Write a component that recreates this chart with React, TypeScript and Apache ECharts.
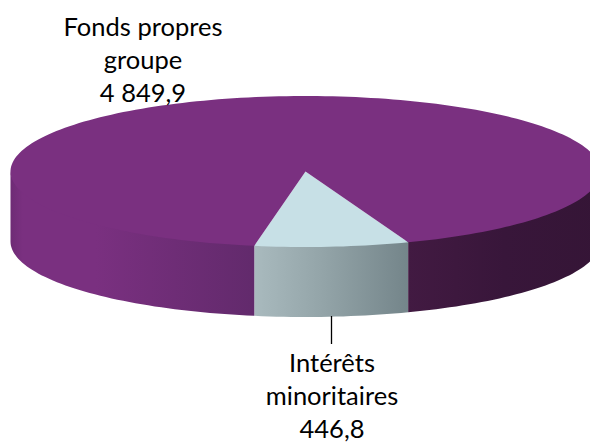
import React, { useEffect, useRef } from "react";
import * as echarts from "echarts";

const names = ["Intérêts\nminoritaires", "Fonds propres\ngroupe"];
const values = [446.8, 4849.9];
const valueLabels = ["446,8", "4 849,9"];

const CX = 305.5, CY = 171.5, RX = 295, RY = 75.5, DEPTH = 70;
const START = -10; // degrees from the front of the pie
const FONT = "Lato, Carlito, sans-serif";

const rad = (d: number) => (d * Math.PI) / 180;
const pt = (a: number, dy = 0): number[] => [CX + RX * Math.sin(rad(a)), CY + RY * Math.cos(rad(a)) + dy];
const arc = (a: number, b: number, dy = 0): number[][] => {
  const n = Math.max(2, Math.ceil(Math.abs(b - a) / 1.5));
  const out: number[][] = [];
  for (let i = 0; i <= n; i++) out.push(pt(a + ((b - a) * i) / n, dy));
  return out;
};
// the upper edge is tucked under the top face so that no pale seam shows
const wall = (a: number, b: number) => [...arc(a, b, -2), ...arc(b, a, DEPTH)];
const hGrad = (stops: [number, string][]) => new echarts.graphic.LinearGradient(0, 0, 1, 0, stops.map(([offset, color]) => ({ offset, color })));

const renderItem = (params: any, api: any) => {
  const i = params.dataIndex;
  const total = values.reduce((s, v) => s + v, 0);
  const sweep = (api.value(0) / total) * 360;
  const before = values.slice(0, i).reduce((s, v) => s + v, 0);
  const a0 = START + (before / total) * 360;
  const a1 = a0 + sweep;
  const children: any[] = [];
  if (i === 0) {
    children.push({
      type: "polygon",
      shape: { points: wall(a0, a1) },
      style: { fill: hGrad([[0, "#a9babe"], [0.45, "#93a4a8"], [1, "#74858a"]]) },
    });
    children.push({
      type: "polygon",
      shape: { points: [[CX, CY], ...arc(a0, a1)] },
      style: { fill: "#c7e0e6" },
    });
    children.push({
      type: "line",
      shape: { x1: 331.5, y1: 316, x2: 331.5, y2: 344 },
      style: { stroke: "#000000", lineWidth: 1.3 },
    });
    children.push({
      type: "text",
      style: {
        x: 332, y: 345, text: `${names[i]}\n${valueLabels[i]}`,
        align: "center", verticalAlign: "top", font: `25.5px ${FONT}`, lineHeight: 33, fill: "#000000",
      },
    });
  } else {
    children.push({
      type: "polygon",
      shape: { points: wall(-90, START) },
      style: { fill: hGrad([[0, "#6e2b75"], [0.05, "#7a3080"], [0.35, "#7a3080"], [1, "#622a6c"]]) },
    });
    children.push({
      type: "polygon",
      shape: { points: wall(a0, 90) },
      style: { fill: hGrad([[0, "#421a42"], [0.5, "#38163a"], [1, "#351536"]]) },
    });
    children.push({
      type: "polygon",
      shape: { points: [[CX, CY], ...arc(a0, a1)] },
      style: { fill: "#7a3080" },
    });
    children.push({
      type: "text",
      style: {
        x: 143, y: 9, text: `${names[i]}\n${valueLabels[i]}`,
        align: "center", verticalAlign: "top", font: `25.5px ${FONT}`, lineHeight: 33, fill: "#000000",
      },
      z2: 5,
    });
  }
  return { type: "group", children };
};

export default function App() {
  const ref = useRef<HTMLDivElement>(null);
  useEffect(() => {
    const chart = echarts.init(ref.current!, null, { renderer: "svg" });
    chart.setOption({
      animation: false,
      backgroundColor: "#ffffff",
      series: [
        {
          type: "custom",
          coordinateSystem: "none",
          renderItem,
          data: [
            { value: [values[0]], name: names[0] },
            { value: [values[1]], name: names[1] },
          ],
          encode: { value: 0 },
          silent: true,
        },
      ],
    });
    return () => chart.dispose();
  }, []);
  return <div ref={ref} style={{ position: "fixed", left: 0, top: 0, width: 590, height: 443 }} />;
}
